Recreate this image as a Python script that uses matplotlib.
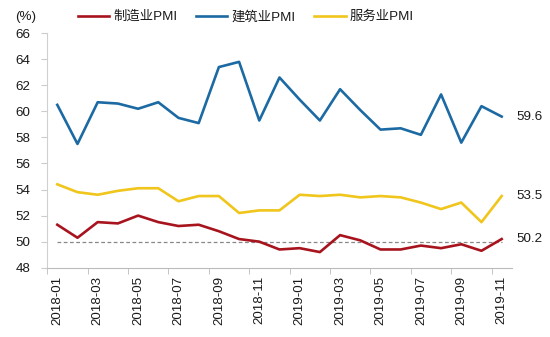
import numpy as np
import matplotlib
matplotlib.use("Agg")
import matplotlib.pyplot as plt
from matplotlib.lines import Line2D

plt.rcParams['font.family'] = ['Liberation Sans', 'Noto Sans CJK SC', 'DejaVu Sans']

months = ["2018-01", "2018-02", "2018-03", "2018-04", "2018-05", "2018-06",
          "2018-07", "2018-08", "2018-09", "2018-10", "2018-11", "2018-12",
          "2019-01", "2019-02", "2019-03", "2019-04", "2019-05", "2019-06",
          "2019-07", "2019-08", "2019-09", "2019-10", "2019-11"]
manufacturing = [51.3, 50.3, 51.5, 51.4, 52.0, 51.5, 51.2, 51.3, 50.8, 50.2, 50.0, 49.4,
                 49.5, 49.2, 50.5, 50.1, 49.4, 49.4, 49.7, 49.5, 49.8, 49.3, 50.2]
construction = [60.5, 57.5, 60.7, 60.6, 60.2, 60.7, 59.5, 59.1, 63.4, 63.8, 59.3, 62.6,
                60.9, 59.3, 61.7, 60.1, 58.6, 58.7, 58.2, 61.3, 57.6, 60.4, 59.6]
services = [54.4, 53.8, 53.6, 53.9, 54.1, 54.1, 53.1, 53.5, 53.5, 52.2, 52.4, 52.4,
            53.6, 53.5, 53.6, 53.4, 53.5, 53.4, 53.0, 52.5, 53.0, 51.5, 53.5]
series_names = ["制造业PMI", "建筑业PMI", "服务业PMI"]
colors = ["#A8141E", "#1C6AA3", "#F0C51C"]
yticks = list(range(48, 67, 2))

x = np.arange(len(months))
txt = "#1a1a1a"
fs = 9.6

fig = plt.figure(figsize=(5.5, 3.37), dpi=100)
ax = fig.add_axes([0.0858, 0.2056, 0.8447, 0.6959])

ax.plot(x, [50] * len(x), color="#888888", lw=0.9, ls=(0, (3, 2)), zorder=1)
for vals, c in zip([manufacturing, construction, services], colors):
    ax.plot(x, vals, color=c, lw=1.9, zorder=3)
    ax.text(x[-1] + 0.75, vals[-1], "%.1f" % vals[-1], fontsize=fs, color=txt,
            va="center", ha="left")

ax.set_xlim(-0.5, len(x) - 0.5)
ax.set_ylim(48, 66)
ax.set_yticks(yticks)
ax.set_yticklabels([str(v) for v in yticks], fontsize=fs, color=txt)
ax.set_xticks(x[::2])
ax.set_xticklabels(months[::2], rotation=90, fontsize=fs, color=txt)
ax.set_xticks(np.arange(-0.5, len(x), 2), minor=True)
ax.tick_params(axis="x", which="major", length=0, pad=6)
ax.tick_params(axis="x", which="minor", length=4, color="#bbbbbb", direction="out")
ax.tick_params(axis="y", length=4, color="#cccccc", pad=8)

for s in ["top", "right"]:
    ax.spines[s].set_visible(False)
ax.spines["left"].set_color("#d0d0d0")
ax.spines["bottom"].set_color("#bbbbbb")

fig.text(0.027, 0.95, "(%)", fontsize=fs, color=txt, va="center", ha="left")

handles = [Line2D([0], [0], color=c, lw=1.9) for c in colors]
fig.legend(handles, series_names, loc="center", bbox_to_anchor=(0.447, 0.95),
           ncol=3, frameon=False, fontsize=fs, handlelength=2.35,
           handletextpad=0.3, columnspacing=1.4, labelcolor=txt)

fig.savefig("out.png", dpi=100)
